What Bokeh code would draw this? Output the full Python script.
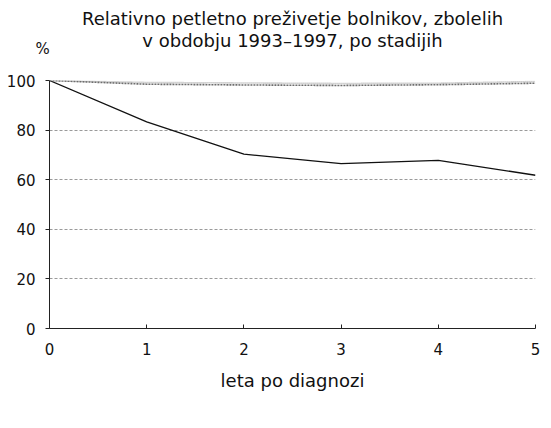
from bokeh.plotting import figure
from bokeh.models import Legend, LegendItem, FixedTicker, Range1d, Title
from bokeh.embed import file_html
from bokeh.resources import INLINE
import math

years = [0, 1, 2, 3, 4, 5]
omejen = [100, 99.2, 99.0, 98.8, 98.9, 99.6]
razsirjen = [100, 83.3, 70.3, 66.5, 67.8, 61.8]
razsejan = [math.nan] * 6
vsi = [100, 98.5, 98.2, 98.0, 98.3, 98.9]
y_ticks = [0, 20, 40, 60, 80, 100]
title_lines = ["Relativno petletno preživetje bolnikov, zbolelih",
               "v obdobju 1993–1997, po stadijih"]
x_label = "leta po diagnozi"
y_unit = "%"

FONT = "DejaVu Sans"
INK = "#111111"

p = figure(width=551, height=428, frame_width=486, frame_height=248,
           output_backend="svg", toolbar_location=None,
           x_range=Range1d(0, 5), y_range=Range1d(0, 100),
           min_border_left=49, min_border_right=16, min_border_top=80, min_border_bottom=100)
p.outline_line_color = None

r_om = p.line(years, omejen, line_color="#a8a8a8", line_width=1.6, line_dash="1 1")
r_ra = p.line(years, razsirjen, line_color=INK, line_width=1.3)
r_rs = p.line(years, razsejan, line_color="#bdbdbd", line_width=1.2, line_dash="2 1")
r_vs = p.line(years, vsi, line_color="#6e6e6e", line_width=1.6, line_dash="2 1")

p.xgrid.visible = False
p.ygrid.ticker = FixedTicker(ticks=y_ticks)
p.ygrid.grid_line_color = "#9a9a9a"
p.ygrid.grid_line_dash = "3 2"

p.yaxis.ticker = FixedTicker(ticks=y_ticks)
p.xaxis.ticker = FixedTicker(ticks=years)
for ax in (p.xaxis[0], p.yaxis[0]):
    ax.axis_line_color = "#222222"
    ax.major_tick_line_color = "#222222"
    ax.minor_tick_line_color = None
    ax.major_label_text_font = FONT
    ax.major_label_text_font_size = "15px"
    ax.major_label_text_color = INK
p.yaxis.major_tick_in = 0
p.yaxis.major_tick_out = 4
p.yaxis.major_label_standoff = 10
p.xaxis.major_tick_in = 4
p.xaxis.major_tick_out = 0
p.xaxis.major_label_standoff = 14
p.xaxis.axis_label = x_label
p.xaxis.axis_label_text_font = FONT
p.xaxis.axis_label_text_font_size = "18px"
p.xaxis.axis_label_text_font_style = "normal"
p.xaxis.axis_label_text_color = INK
p.xaxis.axis_label_standoff = 12

# stacked title panels (nearest to frame first)
p.add_layout(Title(text=y_unit, align="left", offset=-14, standoff=44, vertical_align="middle",
                   text_font=FONT, text_font_size="15px", text_font_style="normal",
                   text_color=INK), "above")
p.add_layout(Title(text=title_lines[1], align="center", standoff=-69, vertical_align="bottom",
                   text_font=FONT, text_font_size="18px", text_font_style="normal",
                   text_color=INK), "above")
p.add_layout(Title(text=title_lines[0], align="center", standoff=-25, vertical_align="bottom",
                   text_font=FONT, text_font_size="18px", text_font_style="normal",
                   text_color=INK), "above")

legend = Legend(items=[LegendItem(label="omejen", renderers=[r_om]),
                       LegendItem(label="razširjen", renderers=[r_ra]),
                       LegendItem(label="razsejan", renderers=[r_rs]),
                       LegendItem(label="vsi", renderers=[r_vs])],
                orientation="horizontal", location=(-34, 10), nrows=1,
                glyph_width=45, glyph_height=16, label_height=16,
                label_standoff=8, spacing=22, padding=0, margin=0,
                border_line_color=None, background_fill_alpha=0,
                label_text_font=FONT, label_text_font_size="18px", label_text_color=INK)
p.add_layout(legend, "below")

open("out.html", "w").write(file_html(p, INLINE))
